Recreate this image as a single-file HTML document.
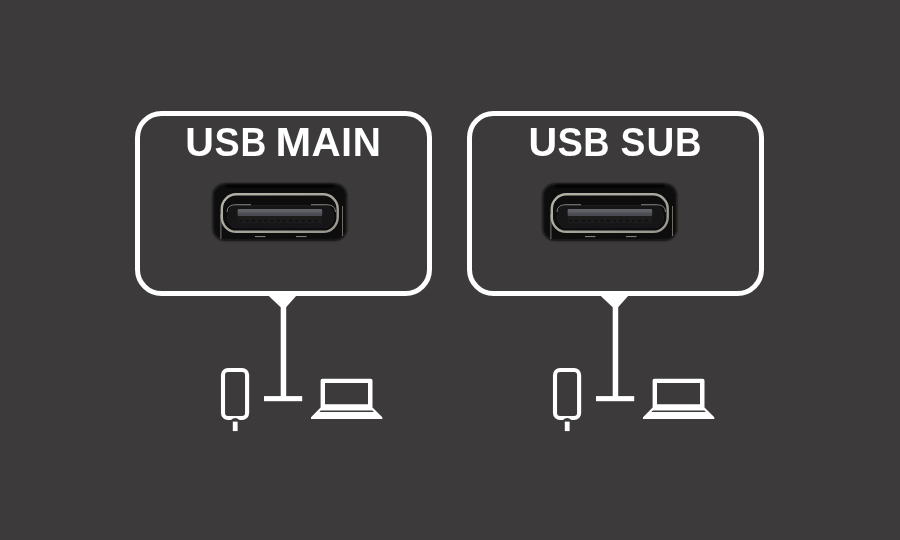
<!DOCTYPE html>
<html><head><meta charset="utf-8">
<style>
html,body{margin:0;padding:0;width:900px;height:540px;overflow:hidden;background:#3c3a3b;}
svg{display:block;position:absolute;left:0;top:0;}
.t{font-family:"Liberation Sans",sans-serif;font-weight:bold;font-size:41.3px;fill:#fff;stroke:#3c3a3b;stroke-width:0px;}
</style></head>
<body>
<svg width="900" height="540" viewBox="0 0 900 540">
<defs>
<filter id="noop" x="0" y="0" width="1" height="1"><feOffset dx="0" dy="0"/></filter>
<filter id="soft" x="-10%" y="-30%" width="120%" height="160%"><feGaussianBlur stdDeviation="1.3"/></filter>
<filter id="s2" x="-10%" y="-30%" width="120%" height="160%"><feGaussianBlur stdDeviation="0.45"/></filter>
<linearGradient id="shellg" x1="0" y1="0" x2="1" y2="1">
  <stop offset="0" stop-color="#b4b1a7"/><stop offset="0.5" stop-color="#a9a69d"/><stop offset="1" stop-color="#98958c"/>
</linearGradient>
<linearGradient id="barg" x1="0" y1="0" x2="0" y2="1">
  <stop offset="0" stop-color="#64656c"/><stop offset="0.45" stop-color="#5c5d64"/><stop offset="0.55" stop-color="#505157"/><stop offset="1" stop-color="#4a4b51"/>
</linearGradient>
<g id="port">
  <rect x="212.8" y="183.8" width="134" height="56.6" rx="12" fill="#090909" filter="url(#soft)"/>
  <rect x="225" y="184.4" width="110" height="3" rx="1.5" fill="#000" filter="url(#soft)"/>
  <g filter="url(#s2)">
  <line x1="220.9" y1="214" x2="220.9" y2="239" stroke="#77746c" stroke-width="1"/>
  <line x1="342.5" y1="206" x2="342.5" y2="236" stroke="#6f6c65" stroke-width="1"/>
  <rect x="221.8" y="194.3" width="115.9" height="37.5" rx="14.5" fill="#080808" stroke="url(#shellg)" stroke-width="2.4"/>
  <rect x="227.5" y="205.5" width="106" height="22.5" rx="10" fill="#141416" stroke="#222224" stroke-width="0.8"/>
  <path d="M227 212 Q227 204.7 236 204.7 L251 204.7" fill="none" stroke="#85837c" stroke-width="1"/>
  <path d="M311 204.7 L326 204.7 Q335.5 204.7 335.5 212" fill="none" stroke="#85837c" stroke-width="1"/>
  <rect x="237.6" y="209" width="84.6" height="6.9" rx="1" fill="url(#barg)"/>
  <rect x="238" y="216" width="84" height="7.5" fill="#1c1c1e"/>
  <line x1="239" y1="220.7" x2="321" y2="220.7" stroke="#0a0a0b" stroke-width="1.4" stroke-dasharray="3 3.3"/>
  <line x1="255" y1="236.6" x2="265.5" y2="236.6" stroke="#8d8a82" stroke-width="1"/>
  <line x1="296" y1="236.6" x2="306.5" y2="236.6" stroke="#8d8a82" stroke-width="1"/>
  </g>
</g>
<g id="box">
  <rect x="137.5" y="113.5" width="292" height="180" rx="24" fill="none" stroke="#fff" stroke-width="5"/>
  <path d="M263.5 291 L300.5 291 L286.1 307.3 L280.7 307.3 Z" fill="#fff"/>
  <rect x="280.7" y="293" width="5.5" height="108" fill="#fff"/>
  <rect x="264" y="396.1" width="38.2" height="5.1" fill="#fff"/>
  <rect x="223" y="370" width="24.1" height="48" rx="5" fill="none" stroke="#fff" stroke-width="4.1"/>
  <circle cx="235.2" cy="423.6" r="5.5" fill="#3c3a3b"/>
  <rect x="232.8" y="421.6" width="4.8" height="9.5" fill="#fff"/>
  <path d="M311 418.9 L311 417.2 L320.6 407.6 L320.6 380.5 Q320.6 378.8 322.3 378.8 L370.8 378.8 Q372.5 378.8 372.5 380.5 L372.5 407.6 L382.3 417.2 L382.3 418.9 Z M325 383.1 L325 404.2 L368 404.2 L368 383.1 Z" fill="#fff" fill-rule="evenodd"/>
  <path d="M320.8 410.6 L372.3 410.6 L373.8 412 L319.4 412 Z" fill="#3c3a3b"/>
</g>
</defs>
<use href="#box"/>
<use href="#box" x="332"/>
<use href="#port"/>
<use href="#port" x="330"/>
<g filter="url(#noop)">
<text class="t" transform="translate(185.32 156.3) scale(0.9605 1)">U</text>
<text class="t" transform="translate(214.47 156.3) scale(0.9118 1)">S</text>
<text class="t" transform="translate(240.39 156.3) scale(0.8653 1)">B</text>
<text class="t" transform="translate(275.51 156.3) scale(1.0380 1)">M</text>
<text class="t" transform="translate(311.49 156.3) scale(0.9794 1)">A</text>
<text class="t" transform="translate(341.17 156.3) scale(0.9260 1)">I</text>
<text class="t" transform="translate(352.77 156.3) scale(0.9438 1)">N</text>
<text class="t" transform="translate(528.42 156.3) scale(0.9605 1)">U</text>
<text class="t" transform="translate(557.61 156.3) scale(0.9179 1)">S</text>
<text class="t" transform="translate(583.34 156.3) scale(0.8812 1)">B</text>
<text class="t" transform="translate(620.38 156.3) scale(0.9037 1)">S</text>
<text class="t" transform="translate(646.39 156.3) scale(0.9322 1)">U</text>
<text class="t" transform="translate(675.12 156.3) scale(0.8891 1)">B</text>
</g>
</svg>
</body></html>
